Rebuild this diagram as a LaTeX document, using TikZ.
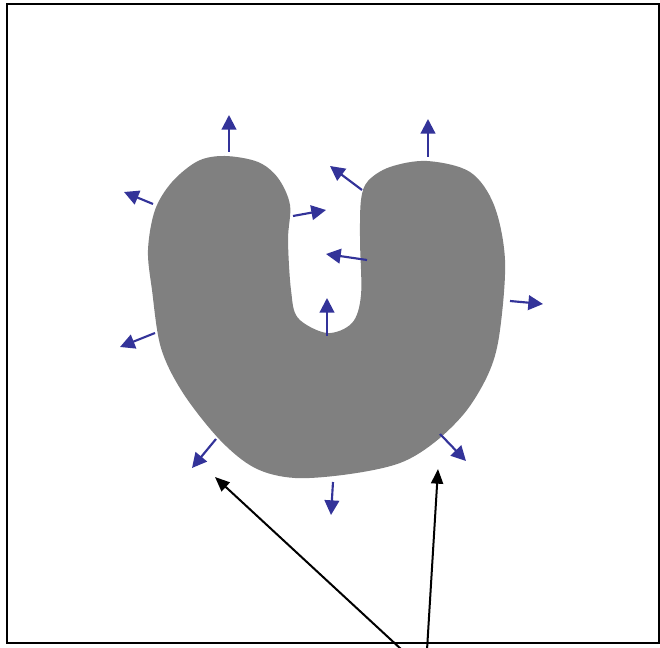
\documentclass[tikz,border=0pt]{standalone}
\usetikzlibrary{arrows.meta}

\definecolor{normalblue}{RGB}{51,51,153}
\definecolor{blobgray}{RGB}{128,128,128}

\begin{document}
\begin{tikzpicture}[
    x=0.75pt, y=-0.75pt,
    normal/.style={-{Triangle[length=11pt, width=11pt]}, line width=1.6pt, draw=normalblue, fill=normalblue},
    pointer/.style={-{Triangle[length=11pt, width=9pt]}, line width=1.5pt, black}
]
\useasboundingbox (0,0) rectangle (660,648);

% Frame
\draw[line width=1.5pt] (7,4) rectangle (659,643);

% Shape
\fill[blobgray] plot[smooth cycle, tension=0.55] coordinates {
    (225,156) (258,162) (278,178) (290,205) (288,240) (291,290) (298,318)
    (327,333) (352,323) (361,295) (360,240) (361,200) (368,181) (390,167)
    (427,161) (470,172) (494,205) (505,260) (500,330) (490,370) (467,410)
    (435,442) (400,463) (350,474) (295,478) (255,468) (220,440) (183,393)
    (161,348) (152,290) (148,250) (155,210) (172,182) (198,161)};

% Normals
\draw[normal] (229,152) -- (229,115);
\draw[normal] (153,204) -- (124,192);
\draw[normal] (293,216) -- (326,210);
\draw[normal] (362,190) -- (330,166);
\draw[normal] (428,157) -- (428,119);
\draw[normal] (367,260) -- (326,254);
\draw[normal] (327,336) -- (327,298);
\draw[normal] (510,301) -- (543,304);
\draw[normal] (155,333) -- (120,347);
\draw[normal] (216,439) -- (192,468);
\draw[normal] (440,434) -- (466,461);
\draw[normal] (333,482) -- (331,515);

% Pointers
\coordinate (srcleft) at (402,650);
\coordinate (srcright) at (427,650);
\coordinate (tipleft) at (215,477);
\coordinate (tipright) at (438,469);
\draw[pointer] (srcleft) -- (tipleft);
\draw[pointer] (srcright) -- (tipright);

\end{tikzpicture}
\end{document}
